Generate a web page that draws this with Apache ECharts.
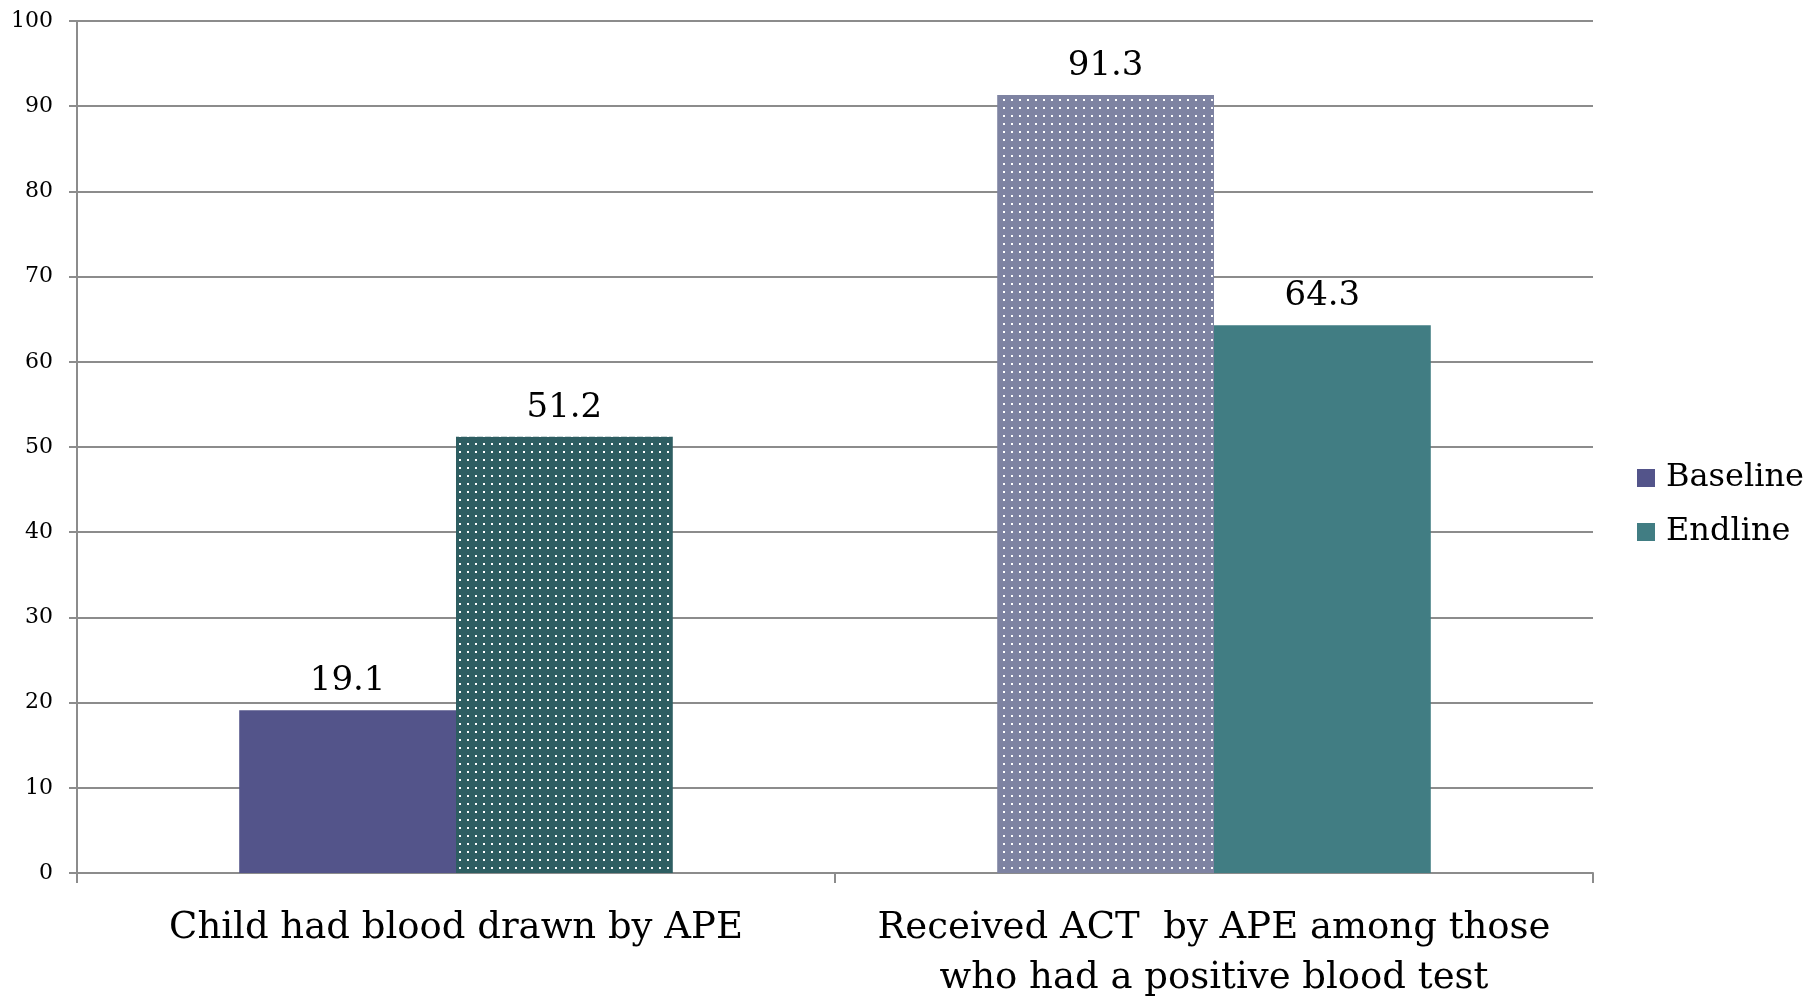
<!DOCTYPE html>
<html>
<head>
<meta charset="utf-8">
<script src="https://cdn.jsdelivr.net/npm/echarts@6/dist/echarts.min.js"></script>
<style>
  html, body { margin: 0; padding: 0; background: #ffffff; }
  #chart { width: 1807px; height: 1003px; }
</style>
</head>
<body>
<div id="chart"></div>
<script>
// Data
const categories = [
  'Child had blood drawn by APE',
  'Received ACT  by APE among those\nwho had a positive blood test'
];
const seriesNames = ['Baseline', 'Endline'];
const baselineValues = [19.1, 91.3];
const endlineValues = [51.2, 64.3];
const yTicks = [0, 10, 20, 30, 40, 50, 60, 70, 80, 90, 100];

// Dotted fill made from a small repeating canvas tile
function dotted(base) {
  const c = document.createElement('canvas');
  c.width = 8; c.height = 8;
  const g = c.getContext('2d');
  g.fillStyle = base;
  g.fillRect(0, 0, 8, 8);
  g.fillStyle = '#ffffff';
  g.fillRect(3, 3, 2, 2);
  return { image: c, repeat: 'repeat' };
}

const FONT = '"DejaVu Serif", "Liberation Serif", serif';

const chart = echarts.init(document.getElementById('chart'), null, { renderer: 'canvas' });

chart.setOption({
  animation: false,
  backgroundColor: '#ffffff',
  textStyle: { fontFamily: FONT, color: '#000' },
  grid: { left: 77, right: 214, top: 21, bottom: 128, containLabel: false },
  legend: {
    orient: 'vertical',
    left: 1632,
    top: 457,
    itemWidth: 18,
    itemHeight: 18,
    itemGap: 22,
    icon: 'rect',
    textStyle: { fontFamily: FONT, fontSize: 32, color: '#000', padding: [0, 0, 0, 6] },
    data: [
      { name: seriesNames[0], itemStyle: { color: '#53548A' } },
      { name: seriesNames[1], itemStyle: { color: '#417D83' } }
    ]
  },
  xAxis: {
    type: 'category',
    data: categories,
    axisLine: { lineStyle: { color: '#8c8c8c', width: 2 } },
    axisTick: { show: true, interval: 0, length: 10, lineStyle: { color: '#8c8c8c', width: 2 } },
    axisLabel: {
      interval: 0,
      fontFamily: FONT, fontSize: 37, color: '#000', margin: 30, lineHeight: 50
    }
  },
  yAxis: {
    type: 'value',
    min: 0,
    max: 100,
    interval: 10,
    axisLine: { show: true, lineStyle: { color: '#8c8c8c', width: 2 } },
    axisTick: { show: true, length: 8, lineStyle: { color: '#8c8c8c', width: 2 } },
    axisLabel: {
      fontFamily: FONT, fontSize: 22, color: '#000', margin: 24,
      formatter: v => (yTicks.includes(v) ? String(v) : '')
    },
    splitLine: { show: true, lineStyle: { color: '#8c8c8c', width: 2 } }
  },
  series: [
    {
      name: seriesNames[0],
      type: 'bar',
      barGap: '0%',
      barCategoryGap: '42.8%',
      itemStyle: { color: '#53548A' },
      label: {
        show: true, position: 'top', distance: 12,
        fontFamily: FONT, fontSize: 34, color: '#000',
        formatter: p => p.value.toFixed(1)
      },
      data: baselineValues.map((v, i) => ({
        value: v,
        itemStyle: { color: i === 1 ? dotted('#7E83A2') : '#53548A' }
      }))
    },
    {
      name: seriesNames[1],
      type: 'bar',
      barGap: '0%',
      barCategoryGap: '42.8%',
      itemStyle: { color: '#417D83' },
      label: {
        show: true, position: 'top', distance: 12,
        fontFamily: FONT, fontSize: 34, color: '#000',
        formatter: p => p.value.toFixed(1)
      },
      data: endlineValues.map((v, i) => ({
        value: v,
        itemStyle: { color: i === 0 ? dotted('#2E5E62') : '#417D83' }
      }))
    }
  ]
});
</script>
</body>
</html>
